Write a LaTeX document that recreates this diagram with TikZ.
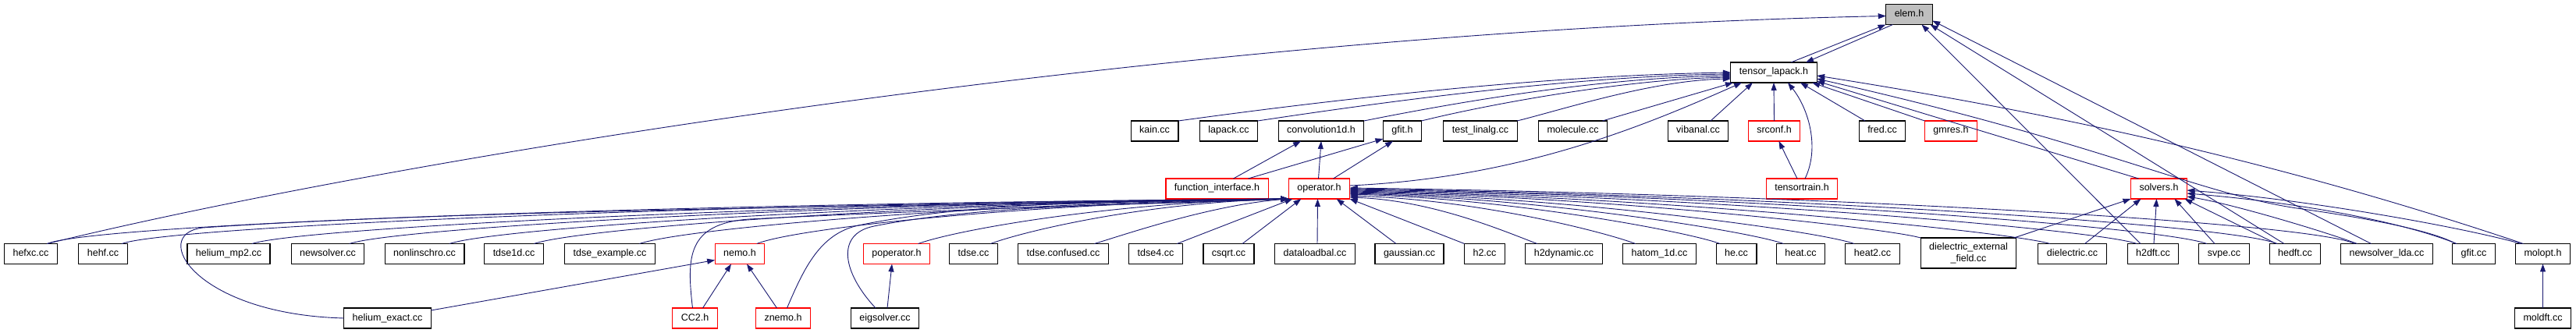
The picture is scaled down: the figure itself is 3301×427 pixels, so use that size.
\documentclass[tikz,border=0pt]{standalone}
\usepackage{fontspec}
\setmainfont{Liberation Sans}
\usetikzlibrary{arrows.meta}
\definecolor{edgeblue}{RGB}{25,25,112}
\definecolor{curgray}{RGB}{191,191,191}
\begin{document}
\begin{tikzpicture}[x=1pt, y=-1pt, font=\fontsize{12.5}{14}\selectfont, >={Triangle[length=10pt,width=7pt]},
        base/.style={draw=black, line width=1.1pt, minimum height=26pt, inner xsep=11pt, inner ysep=0pt, outer sep=0pt},
        box/.style={base, text height=9pt, text depth=3pt},
        trunc/.style={box, draw=red}, cur/.style={box, fill=curgray},
        dep/.style={->, draw=edgeblue, line width=0.9pt}]
      \useasboundingbox (0,0) rectangle (3301,427);
      \node[cur]   (elem)    at (2446.5,18.5) {elem.h};
      \node[box]   (tl)      at (2273,93)     {tensor\_lapack.h};
      \node[box]   (kain)    at (1479.5,168)  {kain.cc};
      \node[box]   (lapack)  at (1574.5,168)  {lapack.cc};
      \node[box]   (conv)    at (1693,168)    {convolution1d.h};
      \node[box]   (gfith)   at (1797,168)    {gfit.h};
      \node[box]   (testlin) at (1897,168)    {test\_linalg.cc};
      \node[box]   (molec)   at (2015.5,168)  {molecule.cc};
      \node[box]   (vib)     at (2176,168)    {vibanal.cc};
      \node[trunc] (srconf)  at (2273.5,168)  {srconf.h};
      \node[box]   (fred)    at (2412,168)    {fred.cc};
      \node[trunc] (gmres)   at (2500,168)    {gmres.h};
      \node[trunc] (fif)     at (1559.5,242)  {function\_interface.h};
      \node[trunc] (op)      at (1690.5,242)  {operator.h};
      \node[trunc] (ttrain)  at (2309,242)    {tensortrain.h};
      \node[trunc] (solvers) at (2766.5,242)  {solvers.h};
      \node[box]   (hefxc)   at (39.5,325.5)  {hefxc.cc};
      \node[box]   (hehf)    at (132,325.5)   {hehf.cc};
      \node[box]   (hmp2)    at (293,325.5)   {helium\_mp2.cc};
      \node[box]   (nsolv)   at (420,325.5)   {newsolver.cc};
      \node[box]   (nlin)    at (544,325.5)   {nonlinschro.cc};
      \node[box]   (tdse1d)  at (658.5,325.5) {tdse1d.cc};
      \node[box]   (tdseex)  at (781.5,325.5) {tdse\_example.cc};
      \node[trunc] (nemo)    at (948,325.5)   {nemo.h};
      \node[trunc] (popr)    at (1149,325.5)  {poperator.h};
      \node[box]   (tdse)    at (1247.5,325.5) {tdse.cc};
      \node[box]   (tdsecf)  at (1362.5,325.5) {tdse.confused.cc};
      \node[box]   (tdse4)   at (1481,325.5)  {tdse4.cc};
      \node[box]   (csqrt)   at (1574.5,325.5) {csqrt.cc};
      \node[box]   (dlb)     at (1685,325.5)  {dataloadbal.cc};
      \node[box]   (gauss)   at (1806,325.5)  {gaussian.cc};
      \node[box]   (htwo)    at (1902.5,325.5) {h2.cc};
      \node[box]   (h2dyn)   at (2004,325.5)  {h2dynamic.cc};
      \node[box]   (hatom)   at (2126.5,325.5) {hatom\_1d.cc};
      \node[box]   (he)      at (2225,325.5)  {he.cc};
      \node[box]   (heat)    at (2307.5,325.5) {heat.cc};
      \node[box]   (heattwo) at (2399.5,325.5) {heat2.cc};
      \node[base, align=center, minimum height=39pt, font=\fontsize{12.5}{15}\selectfont]
                   (dext)    at (2522.5,324.5) {dielectric\_external\\\_field.cc};
      \node[box]   (diel)    at (2655.5,325.5) {dielectric.cc};
      \node[box]   (h2dft)   at (2759,325.5)  {h2dft.cc};
      \node[box]   (svpe)    at (2850,325.5)  {svpe.cc};
      \node[box]   (hedft)   at (2941,325.5)  {hedft.cc};
      \node[box]   (nslda)   at (3058.5,325.5) {newsolver\_lda.cc};
      \node[box]   (gfitcc)  at (3170,325.5)  {gfit.cc};
      \node[box]   (molopt)  at (3258.5,325.5) {molopt.h};
      \node[box]   (hex)     at (496.5,408)   {helium\_exact.cc};
      \node[trunc] (cc2)     at (890.5,408)   {CC2.h};
      \node[trunc] (znemo)   at (1003.5,408)  {znemo.h};
      \node[box]   (eigs)    at (1134,408)    {eigsolver.cc};
      \node[box]   (moldft)  at (3258.5,408)  {moldft.cc};
      \draw[dep] ([xshift=-13]hefxc.north east) .. controls (500,205) and (1500,40) .. ([yshift=-2]elem.west);
      \draw[dep] ([xshift=22]tl.north) -- ([xshift=-30]elem.south);
      \draw[dep] ([xshift=-21]elem.south) -- ([xshift=41]tl.north);
      \draw[dep] ([xshift=-16]h2dft.north) -- ([xshift=16]elem.south);
      \draw[dep] ([xshift=-14]hedft.north) -- ([xshift=27]elem.south);
      \draw[dep] ([xshift=-20]nslda.north) -- ([yshift=-8]elem.east);
      \draw[dep] (kain.north east) .. controls +(160,-22) and +(-260,4) .. (tl.west);
      \draw[dep] (lapack.north east) .. controls +(120,-18) and +(-220,3) .. ([yshift=-2]tl.west);
      \draw[dep] (conv.north east) .. controls +(100,-20) and +(-180,3) .. ([yshift=-4]tl.west);
      \draw[dep] (gfith.north east) .. controls +(80,-20) and +(-140,3) .. ([yshift=-6]tl.west);
      \draw[dep] (testlin.north east) .. controls +(60,-15) and +(-100,2) .. ([yshift=-8]tl.west);
      \draw[dep] ([xshift=-6]molec.north east) -- ([xshift=3]tl.south west);
      \draw[dep] ([yshift=4]op.east) .. controls (1950,228) and (2110,160) .. ([xshift=-41]tl.south);
      \draw[dep] ([xshift=16]vib.north) -- ([xshift=-27]tl.south);
      \draw[dep] (srconf.north) -- (tl.south);
      \draw[dep] ([xshift=4]ttrain.north) .. controls (2332,190) and (2318,140) .. ([xshift=18]tl.south);
      \draw[dep] ([xshift=-6]ttrain.north) -- ([xshift=6]srconf.south);
      \draw[dep] ([xshift=-22]fred.north) -- ([xshift=34]tl.south);
      \draw[dep] (gmres.north west) -- ([xshift=-6]tl.south east);
      \draw[dep] ([xshift=-26]solvers.north) -- ([yshift=2]tl.south east);
      \draw[dep] ([xshift=-23]gfitcc.north) .. controls (3110,292) and (3000,275) .. (2950,268)
                 .. controls (2820,250) and (2700,185) .. ([yshift=5]tl.south east);
      \draw[dep] ([xshift=-25]molopt.north) .. controls (2900,200) and (2600,140) .. ([yshift=-4]tl.east);
      \draw[dep] ([xshift=21]fif.north) -- ([xshift=-26]conv.south);
      \draw[dep] ([xshift=40]fif.north) -- ([yshift=3]gfith.south west);
      \draw[dep] ([xshift=-1]op.north) -- (conv.south);
      \draw[dep] ([xshift=18]op.north) -- ([xshift=-12]gfith.south);
      \draw[dep] ([xshift=-13]hefxc.north east) .. controls +(60,-25) and +(-800,6) .. (op.south west);
      \draw[dep] ([xshift=-7]hehf.north east) .. controls +(60,-22) and +(-750,6) .. (op.south west);
      \draw[dep] ([xshift=-23]hmp2.north east) .. controls +(60,-20) and +(-650,6) .. (op.south west);
      \draw[dep] ([xshift=-19]nsolv.north east) .. controls +(60,-20) and +(-600,6) .. (op.south west);
      \draw[dep] ([xshift=-19]nlin.north east) .. controls +(60,-20) and +(-530,6) .. (op.south west);
      \draw[dep] ([xshift=-12]tdse1d.north east) .. controls +(60,-20) and +(-480,6) .. (op.south west);
      \draw[dep] ([xshift=-20]tdseex.north east) .. controls +(60,-20) and +(-400,6) .. (op.south west);
      \draw[dep] ([xshift=-10]nemo.north east) .. controls +(50,-20) and +(-340,6) .. (op.south west);
      \draw[dep] ([xshift=-15]popr.north east) .. controls +(50,-18) and +(-230,5) .. (op.south west);
      \draw[dep] ([xshift=-9]tdse.north east) .. controls +(40,-15) and +(-190,5) .. (op.south west);
      \draw[dep] ([xshift=-18]tdsecf.north east) .. controls +(40,-12) and +(-100,8) .. (op.south west);
      \draw[dep] ([xshift=-7]tdse4.north east) -- ([xshift=5]op.south west);
      \draw[dep] ([xshift=-15]csqrt.north east) -- ([xshift=16]op.south west);
      \draw[dep] (hex.west) .. controls (250,403) and (190,300) .. (260,292)
                 .. controls (600,268) and (1300,262) .. (op.south west);
      \draw[dep] ([xshift=-3]cc2.north) .. controls (880,330) and (880,287) .. (960,281)
                 .. controls (1200,269) and (1450,262) .. (op.south west);
      \draw[dep] ([xshift=5]znemo.north) .. controls (1030,345) and (1050,300) .. (1100,289)
                 .. controls (1250,258) and (1450,258) .. (op.south west);
      \draw[dep] ([xshift=-12]eigs.north) .. controls (1080,350) and (1070,300) .. (1120,290)
                 .. controls (1270,260) and (1500,262) .. (op.south west);
      \draw[dep] ([xshift=3]dlb.north) -- ([xshift=-2]op.south);
      \draw[dep] ([xshift=-17]gauss.north) -- ([xshift=-17]op.south east);
      \draw[dep] (htwo.north west) -- (op.south east);
      \draw[dep] ([xshift=15]h2dyn.north west) .. controls +(-40,-15) and +(107,4) .. ([yshift=-11]op.east);
      \draw[dep] ([xshift=16]hatom.north west) .. controls +(-40,-15) and +(165,5) .. ([yshift=-9]op.east);
      \draw[dep] ([xshift=5]he.north west) .. controls +(-40,-15) and +(210,6) .. ([yshift=-7]op.east);
      \draw[dep] ([xshift=9]heat.north west) .. controls +(-40,-15) and +(250,6) .. ([yshift=-6]op.east);
      \draw[dep] ([xshift=11]heattwo.north west) .. controls +(-40,-15) and +(290,6) .. ([yshift=-5]op.east);
      \draw[dep] (dext.north west) .. controls +(-40,-12) and +(330,6) .. ([yshift=-4]op.east);
      \draw[dep] ([xshift=15]diel.north west) .. controls +(-50,-15) and +(400,7) .. ([yshift=-3]op.east);
      \draw[dep] ([xshift=12]h2dft.north west) .. controls +(-50,-18) and +(450,7) .. ([yshift=-2]op.east);
      \draw[dep] ([xshift=10]svpe.north west) .. controls +(-60,-22) and +(490,7) .. ([yshift=-1]op.east);
      \draw[dep] ([xshift=10]hedft.north west) .. controls +(-60,-25) and +(530,8) .. (op.east);
      \draw[dep] ([xshift=18]nslda.north west) .. controls +(-60,-28) and +(580,8) .. ([yshift=1]op.east);
      \draw[dep] ([xshift=-3]dext.north east) -- (solvers.south west);
      \draw[dep] ([xshift=16]diel.north) -- ([xshift=-23]solvers.south);
      \draw[dep] ([xshift=1]h2dft.north) -- ([xshift=-3]solvers.south);
      \draw[dep] ([xshift=-12]svpe.north) -- ([xshift=20]solvers.south);
      \draw[dep] ([xshift=-24]hedft.north) -- ([xshift=-3]solvers.south east);
      \draw[dep] ([xshift=-38]nslda.north) .. controls +(-40,-15) and +(60,10) .. ([yshift=-10]solvers.east);
      \draw[dep] ([xshift=-22]gfitcc.north) .. controls (3080,285) and (2950,260) .. ([yshift=-6]solvers.east);
      \draw[dep] ([xshift=-28]molopt.north) .. controls (3150,290) and (2950,255) .. ([yshift=-2]solvers.east);
      \draw[dep] ([yshift=10]hex.east) -- ([yshift=-8]nemo.west);
      \draw[dep] ([xshift=10]cc2.north) -- ([xshift=-11]nemo.south);
      \draw[dep] ([xshift=-8]znemo.north) -- ([xshift=9]nemo.south);
      \draw[dep] ([xshift=3]eigs.north) -- ([xshift=-6]popr.south);
      \draw[dep] (moldft.north) -- (molopt.south);
    \end{tikzpicture}
\end{document}
